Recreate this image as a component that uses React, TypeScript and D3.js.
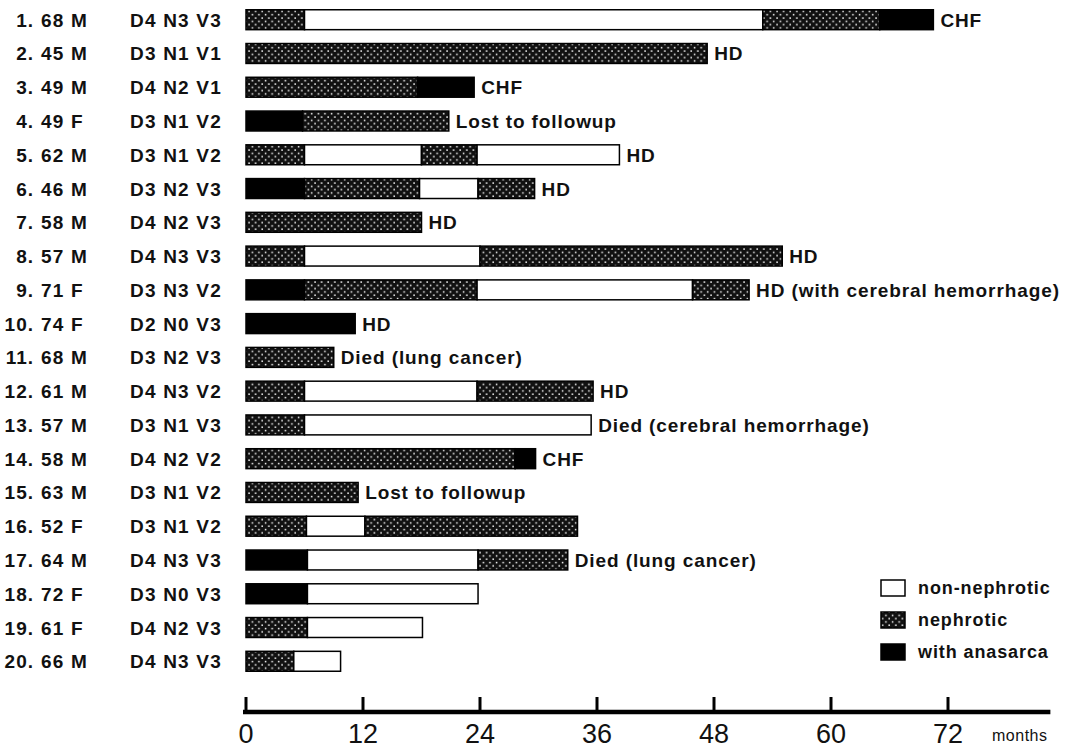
import React from "react";
import * as d3 from "d3";

// ---- data ----
const patientNo = ["1.", "2.", "3.", "4.", "5.", "6.", "7.", "8.", "9.", "10.", "11.", "12.", "13.", "14.", "15.", "16.", "17.", "18.", "19.", "20."];
const ageSex = ["68 M", "45 M", "49 M", "49 F", "62 M", "46 M", "58 M", "57 M", "71 F", "74 F", "68 M", "61 M", "57 M", "58 M", "63 M", "52 F", "64 M", "72 F", "61 F", "66 M"];
const classes = ["D4 N3 V3", "D3 N1 V1", "D4 N2 V1", "D3 N1 V2", "D3 N1 V2", "D3 N2 V3", "D4 N2 V3", "D4 N3 V3", "D3 N3 V2", "D2 N0 V3", "D3 N2 V3", "D4 N3 V2", "D3 N1 V3", "D4 N2 V2", "D3 N1 V2", "D3 N1 V2", "D4 N3 V3", "D3 N0 V3", "D4 N2 V3", "D4 N3 V3"];
// segment types: "W" non-nephrotic, "N" nephrotic, "A" with anasarca; value = end month of segment
const segmentTypes: string[][] = [
  ["N", "W", "N", "A"],
  ["N"],
  ["N", "A"],
  ["A", "N"],
  ["N", "W", "N", "W"],
  ["A", "N", "W", "N"],
  ["N"],
  ["N", "W", "N"],
  ["A", "N", "W", "N"],
  ["A"],
  ["N"],
  ["N", "W", "N"],
  ["N", "W"],
  ["N", "A"],
  ["N"],
  ["N", "W", "N"],
  ["A", "W", "N"],
  ["A", "W"],
  ["N", "W"],
  ["N", "W"],
];
const segmentEnds: number[][] = [
  [6, 53, 65, 70.5],
  [47.3],
  [17.6, 23.4],
  [5.8, 20.8],
  [6, 18, 23.7, 38.3],
  [6, 17.8, 23.8, 29.6],
  [18],
  [6, 24, 55],
  [6, 23.7, 45.8, 51.6],
  [11.2],
  [9],
  [6, 23.7, 35.6],
  [6, 35.4],
  [27.6, 29.7],
  [11.5],
  [6.2, 12.2, 34],
  [6.3, 23.8, 33],
  [6.3, 23.8],
  [6.3, 18.1],
  [4.9, 9.7],
];
const outcomes = ["CHF", "HD", "CHF", "Lost to followup", "HD", "HD", "HD", "HD", "HD (with cerebral hemorrhage)", "HD", "Died (lung cancer)", "HD", "Died (cerebral hemorrhage)", "CHF", "Lost to followup", "", "Died (lung cancer)", "", "", ""];
const tickValues = [0, 12, 24, 36, 48, 60, 72];
const axisMax = 82.5;
const legendKeys = ["W", "N", "A"];
const legendLabels = ["non-nephrotic", "nephrotic", "with anasarca"];

const W = 1068;
const H = 750;

export default function App() {
  const x = d3.scaleLinear().domain([0, 72]).range([246, 948]);
  const y = d3
    .scaleBand<number>()
    .domain(d3.range(patientNo.length))
    .range([3, 678])
    .paddingInner(0.41)
    .paddingOuter(0.2);
  const bh = y.bandwidth();
  const fillFor = (t: string) => (t === "W" ? "#fff" : t === "N" ? "url(#dots)" : "#000");
  const fontMain = "'Liberation Sans', Arial, Helvetica, sans-serif";
  const legendY = d3.scaleLinear().domain([0, 2]).range([588, 652]);
  const axisY = 712;

  return (
    <svg
      width={W}
      height={H}
      viewBox={`0 0 ${W} ${H}`}
      style={{ position: "absolute", left: 0, top: 0, background: "#fff" }}
    >
      <defs>
        <pattern id="dots" width={6.6} height={6.6} patternUnits="userSpaceOnUse">
          <rect width={6.6} height={6.6} fill="#111" />
          <rect x={0.8} y={0.8} width={1.5} height={1.5} fill="#fff" />
          <rect x={4.1} y={4.1} width={1.5} height={1.5} fill="#fff" />
        </pattern>
      </defs>
      <rect width={W} height={H} fill="#fff" />

      {patientNo.map((no, i) => {
        const cy = (y(i) as number) + bh / 2;
        const ends = segmentEnds[i];
        const types = segmentTypes[i];
        const last = ends[ends.length - 1];
        return (
          <g key={i}>
            <text x={34} y={cy + 7} textAnchor="end" fontFamily={fontMain} fontWeight="bold" fontSize={19} letterSpacing={1} fill="#111">
              {no}
            </text>
            <text x={41} y={cy + 7} fontFamily={fontMain} fontWeight="bold" fontSize={19} letterSpacing={1.2} fill="#111">
              {ageSex[i]}
            </text>
            <text x={130} y={cy + 7} fontFamily={fontMain} fontWeight="bold" fontSize={19} letterSpacing={1.2} fill="#111">
              {classes[i]}
            </text>
            {ends.map((e, j) => {
              const s = j === 0 ? 0 : ends[j - 1];
              return (
                <rect
                  key={j}
                  x={x(s)}
                  y={y(i) as number}
                  width={x(e) - x(s)}
                  height={bh}
                  fill={fillFor(types[j])}
                  stroke="#000"
                  strokeWidth={1.5}
                />
              );
            })}
            {outcomes[i] && (
              <text x={x(last) + 7} y={cy + 7} fontFamily={fontMain} fontWeight="bold" fontSize={19} letterSpacing={0.9} fill="#111">
                {outcomes[i]}
              </text>
            )}
          </g>
        );
      })}

      {/* legend */}
      {legendKeys.map((k, i) => (
        <g key={k}>
          <rect x={881} y={legendY(i) - 8} width={24} height={16} fill={fillFor(k)} stroke="#000" strokeWidth={1.5} />
          <text x={918} y={legendY(i) + 6} fontFamily={fontMain} fontWeight="bold" fontSize={18} letterSpacing={0.9} fill="#111">
            {legendLabels[i]}
          </text>
        </g>
      ))}

      {/* axis */}
      <line x1={x(0) - 3} x2={x(axisMax)} y1={axisY} y2={axisY} stroke="#000" strokeWidth={4.5} />
      {tickValues.map((t) => (
        <g key={t}>
          <line x1={x(t)} x2={x(t)} y1={axisY} y2={axisY - 15} stroke="#000" strokeWidth={3} />
          <text
            x={x(t)}
            y={axisY + 31}
            textAnchor="middle"
            fontFamily="'Liberation Sans Narrow', 'Arial Narrow', 'Liberation Sans', sans-serif"
            fontSize={27}
            fill="#111"
          >
            {t}
          </text>
        </g>
      ))}
      <text x={992} y={axisY + 29} fontFamily={fontMain} fontSize={16} letterSpacing={0.5} fill="#111">
        months
      </text>
    </svg>
  );
}
